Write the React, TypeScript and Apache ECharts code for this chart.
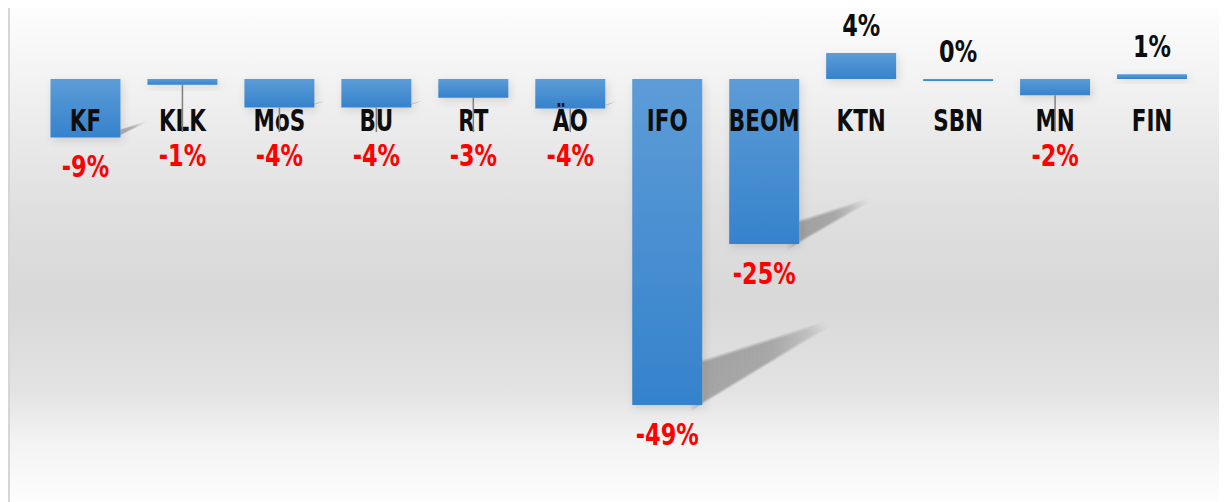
import React, { useEffect, useRef } from "react";
import * as echarts from "echarts";

const categories = ["KF", "KLK", "MoS", "BU", "RT", "ÄO", "IFO", "BEOM", "KTN", "SBN", "MN", "FIN"];
const changes = [-8.8, -0.85, -4.3, -4.3, -2.8, -4.45, -49, -24.8, 3.9, -0.3, -2.45, 0.7];
const yMin = -60;
const yMax = 10;

const FONT = "'DejaVu Sans Condensed', 'DejaVu Sans', sans-serif";
const BAR_W = 70;

const fmt = (v: number) => {
  const r = Math.round(v);
  return String(r === 0 ? 0 : r) + "%";
};

function expand(pts: number[][], d: number) {
  const cx = pts.reduce((s, p) => s + p[0], 0) / pts.length;
  const cy = pts.reduce((s, p) => s + p[1], 0) / pts.length;
  return pts.map((p) => {
    const dx = p[0] - cx;
    const dy = p[1] - cy;
    const len = Math.hypot(dx, dy) || 1;
    return [p[0] + (dx / len) * d, p[1] + (dy / len) * d];
  });
}

export default function App() {
  const ref = useRef<HTMLDivElement>(null);
  useEffect(() => {
    const chart = echarts.init(ref.current!, null, { renderer: "svg" });
    const points = changes.map((v, i) => [i, v]);
    chart.setOption({
      animation: false,
      grid: { left: 27, right: 26.5, top: 12.47, bottom: 23.8, containLabel: false, outerBoundsMode: "none" },
      xAxis: {
        type: "category",
        data: categories,
        show: false,
      },
      yAxis: { type: "value", min: yMin, max: yMax, show: false, splitLine: { show: false } },
      series: [
        {
          type: "custom",
          z: 1,
          silent: true,
          data: points,
          renderItem: (params: any, api: any) => {
            const i = api.value(0);
            const v = api.value(1);
            if (v >= 0) return null;
            const zero = api.coord([i, 0]);
            const end = api.coord([i, v]);
            const L = end[1] - zero[1];
            if (L < 12) return null;
            const R = zero[0] + BAR_W / 2;
            const B = end[1];
            const base = [
              [R, B - 3],
              [R, B - 0.13 * L],
              [R + 0.33 * L, B - 0.235 * L],
              [R + 0.35 * L, B - 0.222 * L],
            ];
            const spread = Math.min(18, 0.16 * L);
            const n = 10;
            const children: any[] = [];
            for (let k = n; k >= 0; k--) {
              children.push({
                type: "polygon",
                shape: { points: expand(base, (spread * k) / n - 3) },
                style: {
                  fill: new echarts.graphic.LinearGradient(0, 0, 1, 0, [
                    { offset: 0, color: "rgba(0,0,0,0.03)" },
                    { offset: 0.6, color: "rgba(0,0,0,0.026)" },
                    { offset: 1, color: "rgba(0,0,0,0.008)" },
                  ]),
                },
              });
            }
            return { type: "group", children };
          },
        },
        {
          type: "bar",
          z: 2,
          data: changes,
          barWidth: BAR_W,
          itemStyle: {
            color: new echarts.graphic.LinearGradient(0, 0, 0, 1, [
              { offset: 0, color: "#5d9cd7" },
              { offset: 1, color: "#3582cc" },
            ]),
            shadowBlur: 8,
            shadowOffsetX: 2,
            shadowOffsetY: 3,
            shadowColor: "rgba(0,0,0,0.12)",
          },
        },
        {
          type: "custom",
          z: 5,
          silent: true,
          data: points,
          renderItem: (params: any, api: any) => {
            const i = api.value(0);
            const zero = api.coord([i, 0]);
            return {
              type: "text",
              x: zero[0],
              y: zero[1] + 41,
              scaleX: 0.77,
              style: {
                text: categories[i],
                align: "center",
                verticalAlign: "middle",
                fill: "#0d0d0d",
                fontFamily: FONT,
                fontWeight: "bold",
                fontSize: 31,
              },
            };
          },
        },
        {
          type: "custom",
          z: 6,
          silent: true,
          data: points,
          renderItem: (params: any, api: any) => {
            const i = api.value(0);
            const v = api.value(1);
            const r = Math.round(v);
            const zero = api.coord([i, 0]);
            const end = api.coord([i, v]);
            const cx = zero[0];
            const children: any[] = [];
            let y: number;
            if (r < 0) {
              const natural = end[1] + 29;
              const minY = zero[1] + 76;
              y = Math.max(natural, minY);
              if (natural < minY && end[1] - zero[1] > 3) {
                children.push({
                  type: "line",
                  shape: { x1: cx, y1: end[1], x2: cx, y2: zero[1] + 53 },
                  style: { stroke: "#7f7f7f", lineWidth: 1.5 },
                });
              }
            } else {
              y = Math.min(end[1], zero[1]) - 28;
            }
            children.push({
              type: "text",
              x: cx,
              y,
              scaleX: 0.83,
              style: {
                text: fmt(v),
                align: "center",
                verticalAlign: "middle",
                fill: r < 0 ? "#ff0000" : "#0d0d0d",
                fontFamily: FONT,
                fontWeight: "bold",
                fontSize: 30,
              },
            });
            return { type: "group", children };
          },
        },
      ],
    });
    return () => chart.dispose();
  }, []);
  return (
    <div
      style={{
        marginTop: -8,
        width: 1219,
        height: 502,
        boxSizing: "border-box",
        borderLeft: "2px solid #d6d6d6",
        background:
          "linear-gradient(to bottom, #fefefe 0%, #f4f4f4 14%, #e9e9e9 28%, #dfdfdf 42%, #d8d8d8 60%, #e3e3e3 78%, #f3f3f3 88%, #fdfdfd 100%)",
      }}
    >
      <div ref={ref} style={{ width: 1217, height: 502 }} />
    </div>
  );
}
